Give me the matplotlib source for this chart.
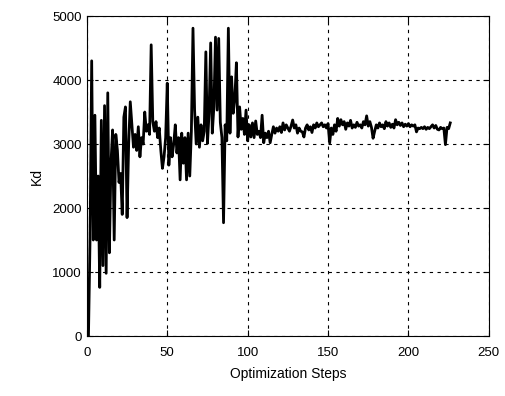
import matplotlib
matplotlib.use("Agg")
import matplotlib.pyplot as plt

# Kd value at each optimization step
kd_early = [0, 0, 1550, 4300, 1500, 3450, 1500, 2500, 760, 3370,
            1100, 3600, 980, 3800, 1300, 2700, 3220, 1500, 3150, 2900,
            2400, 2540, 1900, 3420, 3580, 1850, 3000, 3660, 3300, 2950]
kd_mid = [3150, 2900, 3270, 2800, 3100, 3000, 3500, 3200, 3300, 3150,
          4550, 3350, 3200, 3350, 3100, 3250, 2900, 2620, 2800, 3100,
          3950, 2670, 3100, 2800, 3000, 3300, 2860, 3100, 2440, 3170,
          2700, 3100, 2440, 3170, 2500, 3200, 4810, 3530, 3000, 3420,
          2950, 3300, 3050, 3200, 4440, 3010, 3480, 4580, 3170, 3580,
          4670, 3530, 4650, 3340, 3100, 1770, 3300, 3050, 4810, 3170,
          4050, 3480, 3700, 4270, 3110, 3580, 3230, 3400, 3150, 3530]
kd_late = [3050, 3300, 3110, 3330, 3100, 3360, 3150, 3200, 3100, 3450,
           3020, 3170, 3100, 3200, 3020, 3150, 3270, 3170, 3250, 3200,
           3270, 3180, 3330, 3220, 3300, 3250, 3200, 3280, 3375, 3250,
           3300, 3170, 3250, 3200, 3190, 3110, 3250, 3300, 3220, 3270,
           3180, 3300, 3250, 3330, 3270, 3300, 3330, 3270, 3300, 3250,
           3320, 3015, 3250, 3150, 3300, 3200, 3400, 3280, 3380, 3300,
           3350, 3230, 3330, 3280, 3370, 3250, 3300, 3260, 3340, 3280,
           3300, 3250, 3350, 3300, 3440, 3280, 3350, 3260, 3090, 3200,
           3300, 3250, 3330, 3270, 3300, 3240, 3350, 3280, 3330, 3260,
           3310, 3250, 3380, 3300, 3340, 3290, 3330, 3270, 3310, 3280,
           3320, 3270, 3300, 3280, 3300, 3190, 3250, 3240, 3260, 3240,
           3270, 3230, 3260, 3240, 3270, 3300, 3250, 3290, 3230, 3220,
           3260, 3240, 3250, 2990, 3260, 3240, 3330]
kd = kd_early + kd_mid + kd_late
steps = list(range(len(kd)))

xticks = [0, 50, 100, 150, 200, 250]
yticks = [0, 1000, 2000, 3000, 4000, 5000]

plt.rcParams['font.family'] = ['Liberation Sans', 'DejaVu Sans']
fig = plt.figure(figsize=(5.05, 3.96), dpi=100)
ax = fig.add_axes([0.172, 0.1515, 0.796, 0.808])

ax.plot(steps, kd, color='black', linewidth=2.0)
ax.set_xlim(0, 250)
ax.set_ylim(0, 5000)
ax.set_xticks(xticks)
ax.set_yticks(yticks)
ax.grid(True, color='black', linestyle=(0, (3, 4)), linewidth=0.8)
ax.tick_params(direction='in', top=True, right=True, labelsize=9.5, length=4)
ax.tick_params(axis='x', pad=8)
ax.set_xlabel('Optimization Steps', fontsize=10, labelpad=6)
ax.set_ylabel('Kd', fontsize=10, labelpad=6)

fig.savefig('out.png', dpi=100)
